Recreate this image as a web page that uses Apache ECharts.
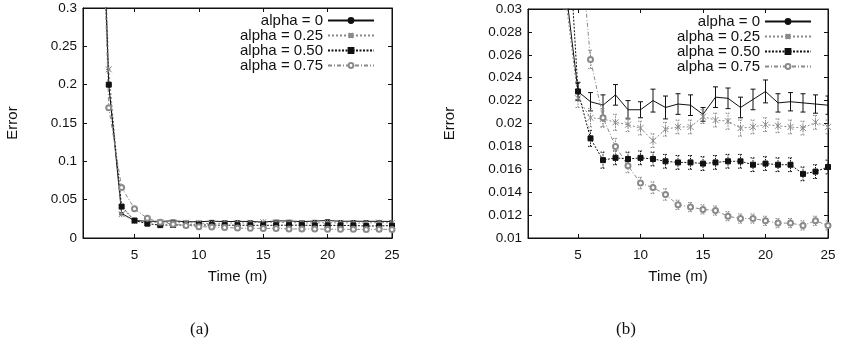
<!DOCTYPE html>
<html>
<head>
<meta charset="utf-8">
<script src="https://cdn.jsdelivr.net/npm/echarts@6/dist/echarts.min.js"></script>
<style>html,body{margin:0;padding:0;background:#fff}#c{width:842px;height:347px}</style>
</head>
<body>
<div id="c"></div>
<script>
// ---- data ----
const times = [2,3,4,5,6,7,8,9,10,11,12,13,14,15,16,17,18,19,20,21,22,23,24,25];
const seriesNames = ['alpha = 0', 'alpha = 0.25', 'alpha = 0.50', 'alpha = 0.75'];
const alpha0   = [0.70,0.20,0.032,0.0228,0.0219,0.0216,0.0225,0.0212,0.0212,0.0220,0.0214,0.0217,0.0216,0.0208,0.0223,0.0222,0.0214,0.0221,0.0228,0.0218,0.0219,0.0218,0.0217,0.0216];
const alpha025 = [0.70,0.22,0.031,0.0222,0.0205,0.0204,0.0201,0.0199,0.0196,0.0185,0.0195,0.0197,0.0197,0.0206,0.0203,0.0202,0.0196,0.0197,0.0199,0.0198,0.0197,0.0196,0.0201,0.0197];
const alpha050 = [0.70,0.20,0.041,0.0228,0.0187,0.0168,0.0170,0.0169,0.0170,0.0169,0.0167,0.0166,0.0166,0.0165,0.0166,0.0167,0.0167,0.0164,0.0165,0.0164,0.0164,0.0156,0.0158,0.0162];
const alpha075 = [0.70,0.17,0.066,0.038,0.0256,0.0205,0.0180,0.0163,0.0148,0.0144,0.0138,0.0129,0.0127,0.0125,0.0124,0.0119,0.0117,0.0117,0.0115,0.0113,0.0113,0.0111,0.0115,0.0111];
const err0   = [0,0,0.001,0.0008,0.0008,0.0009,0.0009,0.0008,0.0007,0.0010,0.0010,0.0009,0.0009,0.0006,0.0009,0.0009,0.0009,0.0009,0.0010,0.0008,0.0008,0.0008,0.0008,0.0008];
const err025 = [0,0,0.001,0.0008,0.0008,0.0007,0.0007,0.0006,0.0006,0.0006,0.0006,0.0006,0.0006,0.0006,0.0006,0.0007,0.0007,0.0006,0.0006,0.0006,0.0006,0.0006,0.0006,0.0006];
const err050 = [0,0,0.001,0.0007,0.0007,0.0007,0.0006,0.0006,0.0006,0.0006,0.0006,0.0006,0.0006,0.0006,0.0006,0.0006,0.0006,0.0006,0.0006,0.0006,0.0006,0.0006,0.0006,0.0006];
const err075 = [0,0,0.002,0.001,0.0008,0.0008,0.0007,0.0006,0.0005,0.0005,0.0005,0.0004,0.0004,0.0004,0.0004,0.0004,0.0004,0.0004,0.0004,0.0004,0.0004,0.0004,0.0004,0.0004];
const xTicks = [5,10,15,20,25];
const yTicksA = [0,0.05,0.1,0.15,0.2,0.25,0.3];
const yTicksB = [0.01,0.012,0.014,0.016,0.018,0.02,0.022,0.024,0.026,0.028,0.03];
const panelLabels = ['(a)', '(b)'];

// ---- styles ----
const FONT = '"Liberation Sans", Arial, sans-serif';
const styles = [
  {color:'#111', type:'solid', symbol:'none', size:0},
  {color:'#8a8a8a', type:[2,2], symbol:'path://M0,0L10,10M10,0L0,10M5,0L5,10', size:6},
  {color:'#111', type:[2,1.5], symbol:'rect', size:5},
  {color:'#8a8a8a', type:[4,2,1,2], symbol:'emptyCircle', size:5}
];
const values = [alpha0, alpha025, alpha050, alpha075];
const errs = [err0, err025, err050, err075];

const chart = echarts.init(document.getElementById('c'), null, {renderer:'canvas'});

function xAx(gi, mirror){
  return {
    type:'value', gridIndex:gi, min:1, max:25, position: mirror?'top':'bottom',
    name: mirror?'':'Time (m)', nameLocation:'middle', nameGap:31,
    nameTextStyle:{fontFamily:FONT, fontSize:15, color:'#111'},
    axisLine:{show:true, onZero:false, lineStyle:{color:'#111', width:1}},
    axisTick:{show:true, inside:true, length:4, customValues:xTicks, lineStyle:{color:'#111'}},
    axisLabel:{show:!mirror, customValues:xTicks, margin:10, fontFamily:FONT, fontSize:13.5, color:'#111'},
    splitLine:{show:false}
  };
}
function yAx(gi, mirror, min, max, ticks, nameGap){
  return {
    type:'value', gridIndex:gi, min:min, max:max, position: mirror?'right':'left',
    name: mirror?'':'Error', nameLocation:'middle', nameGap:nameGap, nameRotate:90,
    nameTextStyle:{fontFamily:FONT, fontSize:15, color:'#111'},
    axisLine:{show:true, onZero:false, lineStyle:{color:'#111', width:1}},
    axisTick:{show:true, inside:true, length:4, customValues:ticks, lineStyle:{color:'#111'}},
    axisLabel:{show:!mirror, customValues:ticks, margin:6, fontFamily:FONT, fontSize:13.5, color:'#111',
      formatter: v => String(parseFloat(Number(v).toFixed(4)))},
    splitLine:{show:false}
  };
}

const series = [];
[0,1].forEach(gi => {
  values.forEach((vals, i) => {
    const st = styles[i];
    series.push({
      type:'line', name:seriesNames[i], xAxisIndex:gi*2, yAxisIndex:gi*2,
      data: times.map((t,k)=>[t, vals[k]]),
      symbol: st.symbol, symbolSize: st.size, showSymbol: st.symbol!=='none',
      lineStyle:{color:st.color, width:1, type:st.type},
      itemStyle:{color:st.color, borderColor:st.color, borderWidth:1},
      clip:true, animation:false, z:3
    });
    series.push({
      type:'custom', name:seriesNames[i]+' err', xAxisIndex:gi*2, yAxisIndex:gi*2,
      data: times.map((t,k)=>[t, vals[k]-errs[i][k], vals[k]+errs[i][k]]),
      clip:true, animation:false, silent:true, z:2,
      renderItem: function(params, api){
        const x = api.value(0);
        const lo = api.coord([x, api.value(1)]);
        const hi = api.coord([x, api.value(2)]);
        const w = 2.5;
        const ls = {stroke: st.color, lineWidth:1, lineDash: i===0?null:[1.5,1]};
        return {type:'group', children:[
          {type:'line', shape:{x1:lo[0], y1:lo[1], x2:hi[0], y2:hi[1]}, style:ls},
          {type:'line', shape:{x1:lo[0]-w, y1:lo[1], x2:lo[0]+w, y2:lo[1]}, style:ls},
          {type:'line', shape:{x1:hi[0]-w, y1:hi[1], x2:hi[0]+w, y2:hi[1]}, style:ls}
        ]};
      }
    });
  });
});

const legendBase = {
  data: seriesNames, orient:'vertical', align:'right', itemWidth:46, itemHeight:6, itemGap:0,
  textStyle:{fontFamily:FONT, fontSize:15, color:'#111', lineHeight:15}, padding:0,
  selectedMode:false
};

chart.setOption({
  backgroundColor:'#fff',
  animation:false,
  grid:[
    {left:83, top:8, width:309, height:230, show:true, borderColor:'#111', borderWidth:1, backgroundColor:'transparent'},
    {left:528, top:9, width:300, height:229, show:true, borderColor:'#111', borderWidth:1, backgroundColor:'transparent'}
  ],
  xAxis:[xAx(0,false), xAx(0,true), xAx(1,false), xAx(1,true)],
  yAxis:[yAx(0,false,0,0.3,yTicksA,63), yAx(0,true,0,0.3,yTicksA,0), yAx(1,false,0.01,0.03,yTicksB,71), yAx(1,true,0.01,0.03,yTicksB,0)],
  legend:[
    Object.assign({}, legendBase, {right:467, top:13}),
    Object.assign({}, legendBase, {right:30, top:14})
  ],
  series: series,
  graphic:[
    {type:'text', left:190, top:321, style:{text:panelLabels[0], font:'17px "Liberation Serif", "DejaVu Serif", serif', fill:'#111'}},
    {type:'text', left:616, top:321, style:{text:panelLabels[1], font:'17px "Liberation Serif", "DejaVu Serif", serif', fill:'#111'}}
  ]
});
</script>
</body>
</html>
